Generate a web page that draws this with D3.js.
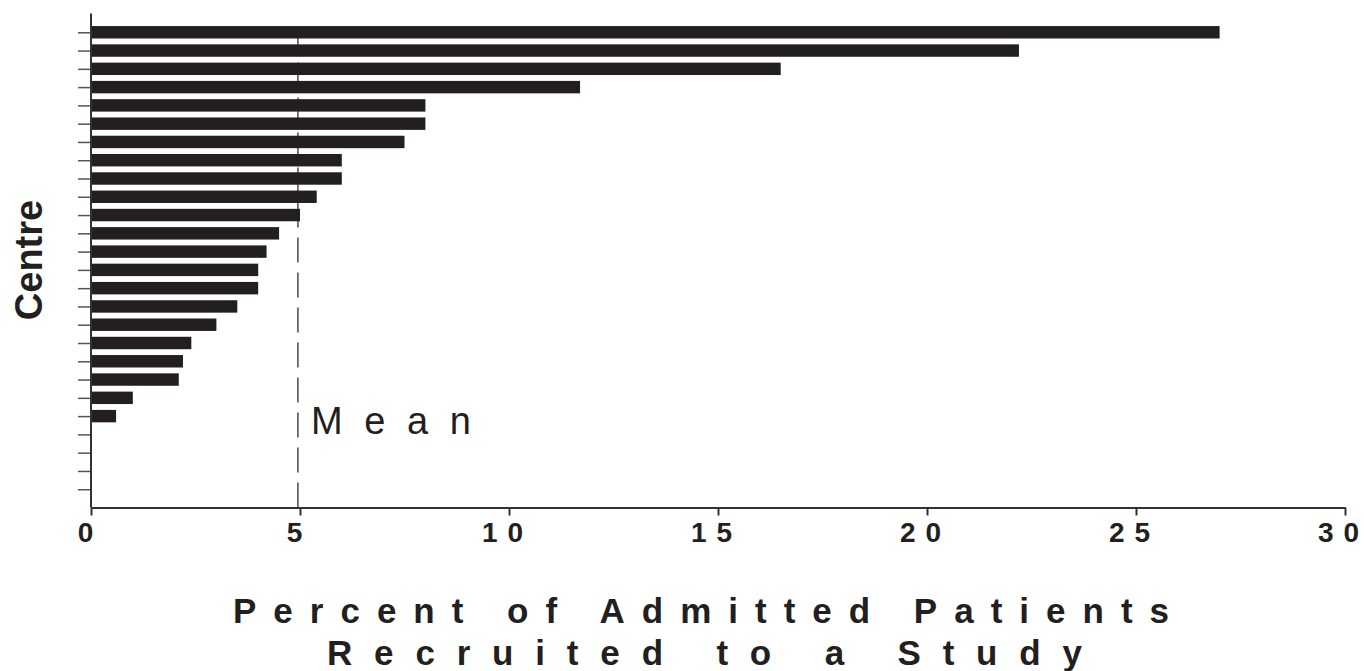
<!DOCTYPE html>
<html>
<head>
<meta charset="utf-8">
<script src="https://cdn.jsdelivr.net/npm/d3@7"></script>
<style>
  html, body { margin: 0; padding: 0; background: #ffffff; }
  svg { display: block; }
</style>
</head>
<body>
<svg id="chart" width="1364" height="671"></svg>
<script>
// ---- data ----
const centres = d3.range(1, 27).map(i => "Centre " + i);
const recruitedPct = [27.0, 22.2, 16.5, 11.7, 8.0, 8.0, 7.5, 6.0, 6.0, 5.4, 5.0, 4.5,
                      4.2, 4.0, 4.0, 3.5, 3.0, 2.4, 2.2, 2.1, 1.0, 0.6, null, null, null, null];
const xTicks = [0, 5, 10, 15, 20, 25, 30];
const meanValue = 4.95;
const meanLabel = "Mean";
const xTitleLines = ["Percent of Admitted Patients", "Recruited to a Study"];
const yTitle = "Centre";

const ink = "#231f20";
const svg = d3.select("#chart");

const x = d3.scaleLinear().domain([0, 30]).range([91, 1345]);
const y = d3.scalePoint().domain(centres).range([14, 507.5]).padding(1);
const barH = y.step() * 0.68;

const rows = centres.map((c, i) => ({ centre: c, value: recruitedPct[i] }));

// mean line (behind bars)
svg.append("line")
  .attr("x1", x(meanValue)).attr("x2", x(meanValue))
  .attr("y1", 507.5).attr("y2", y(centres[0]))
  .attr("stroke", "#4a4a4a").attr("stroke-width", 1.5)
  .attr("stroke-dasharray", "25,10");

// bars
svg.append("g").selectAll("rect")
  .data(rows.filter(d => d.value != null))
  .join("rect")
  .attr("x", x(0) + 1)
  .attr("y", d => y(d.centre) - barH / 2)
  .attr("width", d => x(d.value) - x(0) - 1)
  .attr("height", barH)
  .attr("fill", ink);

// y axis
const gy = svg.append("g").attr("transform", `translate(${x(0)},0)`)
  .call(d3.axisLeft(y).tickSize(13).tickSizeOuter(0).tickFormat(""));
gy.select(".domain").remove();
gy.selectAll(".tick line").attr("stroke", "#555").attr("stroke-width", 1.5);
svg.append("line").attr("x1", x(0)).attr("x2", x(0)).attr("y1", 13.5).attr("y2", 507.5)
  .attr("stroke", "#333").attr("stroke-width", 2);

// x axis
const gx = svg.append("g").attr("transform", "translate(0,507.5)")
  .call(d3.axisBottom(x).tickValues(xTicks).tickSize(8).tickSizeOuter(0));
gx.select(".domain").attr("stroke", "#333").attr("stroke-width", 2);
gx.selectAll(".tick line").attr("stroke", "#333").attr("stroke-width", 2);
gx.selectAll(".tick text")
  .attr("y", 34).attr("dy", 0)
  .attr("dx", d => String(d).length > 1 ? -7 : -6)
  .attr("fill", ink)
  .style("font-family", "'Liberation Sans', Arial, sans-serif")
  .style("font-weight", "bold")
  .style("font-size", "28px")
  .each(function(d) {
    if (String(d).length > 1) {
      d3.select(this).attr("textLength", 41).attr("lengthAdjust", "spacing");
    }
  });

// mean label
svg.append("text")
  .attr("x", 311).attr("y", 434)
  .attr("textLength", 160).attr("lengthAdjust", "spacing")
  .attr("fill", ink)
  .style("font-family", "'Liberation Sans', Arial, sans-serif")
  .style("font-size", "38px")
  .text(meanLabel);

// x title
const titleStarts = [233, 327];
const titleLens = [936, 755];
const titleBase = [623, 665];
xTitleLines.forEach((t, i) => {
  svg.append("text")
    .attr("x", titleStarts[i]).attr("y", titleBase[i])
    .attr("textLength", titleLens[i]).attr("lengthAdjust", "spacing")
    .attr("fill", ink)
    .style("font-family", "'Liberation Sans', Arial, sans-serif")
    .style("font-weight", "bold")
    .style("font-size", "35px")
    .text(t);
});

// y title
svg.append("text")
  .attr("transform", "translate(42,260) rotate(-90)")
  .attr("text-anchor", "middle")
  .attr("fill", ink)
  .style("font-family", "'Liberation Sans', Arial, sans-serif")
  .style("font-weight", "bold")
  .style("font-size", "38px")
  .text(yTitle);
</script>
</body>
</html>
